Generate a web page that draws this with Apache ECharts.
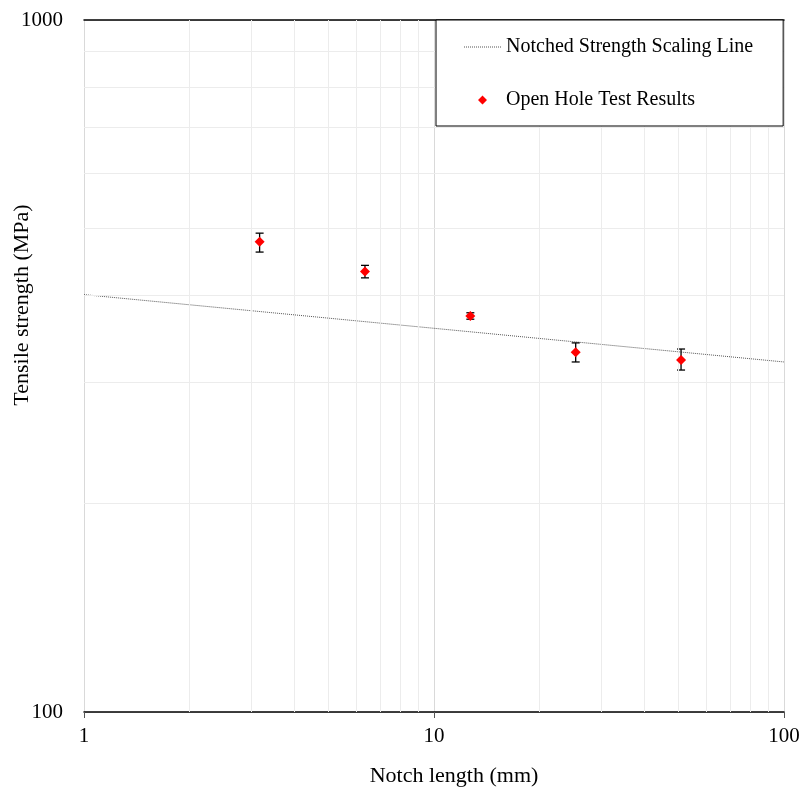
<!DOCTYPE html>
<html lang="en">
<head>
<meta charset="UTF-8" />
<title>Notched strength</title>
<script src="https://cdn.jsdelivr.net/npm/echarts@6/dist/echarts.min.js"></script>
<style>
  html, body { margin: 0; padding: 0; background: #fff; }
</style>
</head>
<body>
<div id="main" style="width: 803px; height: 793px"></div>
<script type="text/javascript">
// open hole test results (notch length in mm, strength in MPa)
const notchLength = [3.175, 6.35, 12.7, 25.4, 50.8];
const strength = [478, 433, 373.5, 331, 322.6];
const errLow = [462, 424, 369.5, 320.5, 312];
const errHigh = [492, 442, 377.5, 341.5, 334.6];

// scaling line end points
const lineX = [1, 100];
const lineY = [401, 320.5];

// minor grid values
const minorX = [2, 3, 4, 5, 6, 7, 8, 9, 20, 30, 40, 50, 60, 70, 80, 90];
const minorY = [200, 300, 400, 500, 600, 700, 800, 900];

const font = "'Liberation Serif', 'Times New Roman', serif";

// small diamond centred in a 37x10 legend icon box
const diamondIcon = "path://M0,0L0,0ZM37,10L37,10ZM14,5L18.5,0.5L23,5L18.5,9.5Z";
// dotted line across the same 37x10 box
let dotted = "M0,0L0,0ZM37,10L37,10Z";
for (let i = 0; i < 37; i += 2) {
  dotted += "M" + i + ",4.5L" + (i + 1) + ",4.5L" + (i + 1) + ",5.5L" + i + ",5.5Z";
}
const lineIcon = "path://" + dotted;

const chart = echarts.init(document.getElementById("main"));

const options = {
  animation: false,
  textStyle: { fontFamily: font, color: "#000" },
  grid: { left: 84, right: 19, top: 20, bottom: 81 },
  legend: {
    orient: "vertical",
    left: 436,
    top: 20,
    z: 20,
    padding: [17, 30, 16, 28],
    itemGap: 33,
    itemWidth: 37,
    itemHeight: 10,
    backgroundColor: "#fff",
    borderColor: "#000",
    borderWidth: 1,
    textStyle: { fontFamily: font, fontSize: 20, color: "#000" },
    data: [
      { name: "Notched Strength Scaling Line", icon: lineIcon },
      { name: "Open Hole Test Results", icon: diamondIcon },
    ],
  },
  xAxis: [
    {
      type: "log",
      logBase: 10,
      min: 1,
      max: 100,
      axisLine: { lineStyle: { color: "#000", width: 1.5 } },
      axisTick: { show: true, length: 6, lineStyle: { color: "#555" } },
      axisLabel: { fontFamily: font, fontSize: 21, color: "#000", margin: 14 },
      splitLine: { show: true, lineStyle: { color: "#d9d9d9" } },
    },
    {
      type: "log",
      position: "top",
      min: 1,
      max: 100,
      axisLine: { lineStyle: { color: "#000", width: 1.5 } },
      axisTick: { show: false },
      axisLabel: { show: false },
      splitLine: { show: false },
    },
  ],
  yAxis: {
    type: "log",
    logBase: 10,
    min: 100,
    max: 1000,
    axisLine: { show: false },
    axisTick: { show: false },
    axisLabel: {
      fontFamily: font,
      fontSize: 21,
      color: "#000",
      margin: 21,
      formatter: (v) => String(Math.round(v)),
    },
    splitLine: { show: true, lineStyle: { color: "#e6e6e6" } },
  },
  graphic: [
    {
      type: "text",
      x: 22,
      y: 305,
      rotation: Math.PI / 2,
      style: {
        text: "Tensile strength (MPa)",
        font: "22px " + font,
        fill: "#000",
        align: "center",
        verticalAlign: "middle",
      },
    },
    {
      type: "text",
      x: 454,
      y: 776,
      style: {
        text: "Notch length (mm)",
        font: "22px " + font,
        fill: "#000",
        align: "center",
        verticalAlign: "middle",
      },
    },
  ],
  series: [
    {
      // minor grid lines
      name: "grid",
      type: "line",
      data: [],
      z: 1,
      silent: true,
      markLine: {
        silent: true,
        symbol: ["none", "none"],
        label: { show: false },
        animation: false,
        lineStyle: { color: "#ececec", type: "solid", width: 1 },
        data: minorX.map((v) => ({ xAxis: v })).concat(minorY.map((v) => ({ yAxis: v }))),
      },
    },
    {
      name: "Notched Strength Scaling Line",
      type: "line",
      data: lineX.map((x, i) => [x, lineY[i]]),
      symbol: "none",
      z: 3,
      lineStyle: { color: "#555", width: 1, type: [1, 1] },
      itemStyle: { color: "#555" },
    },
    {
      name: "errors",
      type: "custom",
      z: 4,
      data: notchLength.map((x, i) => [x, errLow[i], errHigh[i]]),
      renderItem: function (params, api) {
        const lo = api.coord([api.value(0), api.value(1)]);
        const hi = api.coord([api.value(0), api.value(2)]);
        const cap = 4;
        const style = { stroke: "#000", lineWidth: 1.3 };
        return {
          type: "group",
          children: [
            { type: "line", shape: { x1: lo[0], y1: lo[1], x2: hi[0], y2: hi[1] }, style: style },
            { type: "line", shape: { x1: lo[0] - cap, y1: lo[1], x2: lo[0] + cap, y2: lo[1] }, style: style },
            { type: "line", shape: { x1: hi[0] - cap, y1: hi[1], x2: hi[0] + cap, y2: hi[1] }, style: style },
          ],
        };
      },
    },
    {
      name: "Open Hole Test Results",
      type: "scatter",
      z: 5,
      symbol: "diamond",
      symbolSize: 10,
      itemStyle: { color: "#ff0000", opacity: 1 },
      data: notchLength.map((x, i) => [x, strength[i]]),
    },
  ],
};

chart.setOption(options);
</script>
</body>
</html>
